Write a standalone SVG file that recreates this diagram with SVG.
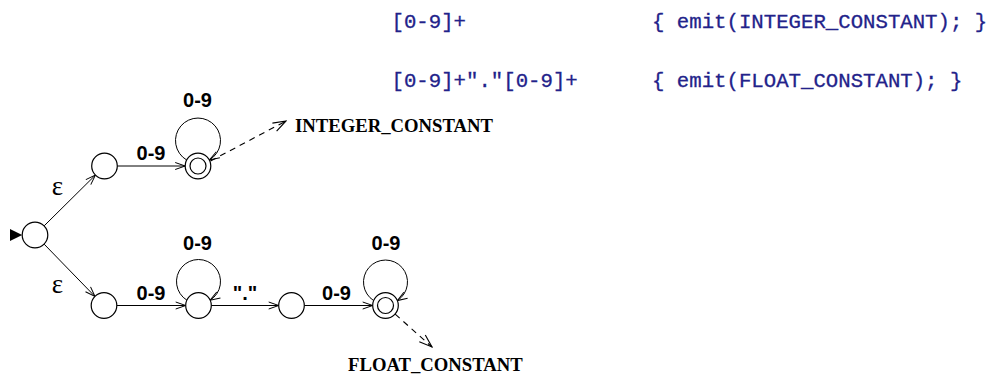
<svg xmlns="http://www.w3.org/2000/svg" width="995" height="379" viewBox="0 0 995 379">
<defs>
<marker id="arr" markerUnits="userSpaceOnUse" markerWidth="14" markerHeight="10" viewBox="-12 -5 14 10" refX="0" refY="0" orient="auto">
<path d="M-10,-3.5 L0,0 L-10,3.5" fill="none" stroke="#000" stroke-width="1"/>
</marker>
<marker id="arrd" markerUnits="userSpaceOnUse" markerWidth="16" markerHeight="12" viewBox="-15 -6 16 12" refX="0" refY="0" orient="auto">
<path d="M-13,-4.5 L0,0 L-13,4.5" fill="none" stroke="#000" stroke-width="1.1"/>
</marker>
</defs>
<style>
.st{fill:#fff;stroke:#000;stroke-width:1.2}
.e{fill:none;stroke:#000;stroke-width:1}
.d{fill:none;stroke:#000;stroke-width:1.1;stroke-dasharray:6 5}
.lbl{font-family:"Liberation Sans",Arial,sans-serif;font-weight:bold;font-size:20px;text-anchor:middle;fill:#000}
.eps{font-family:"Liberation Serif","DejaVu Serif",serif;font-size:27px;text-anchor:middle;fill:#000}
.tok{font-family:"Liberation Serif","Times New Roman",serif;font-weight:bold;font-size:18.7px;fill:#000}
.code{font-family:"Liberation Mono","DejaVu Sans Mono",monospace;font-size:20.7px;fill:#22228a;stroke:#22228a;stroke-width:0.3}
</style>

<g id="code">
<text class="code" x="391.5" y="28">[0-9]+</text>
<text class="code" x="652" y="28">{ emit(INTEGER_CONSTANT); }</text>
<text class="code" x="391.5" y="87">[0-9]+"."[0-9]+</text>
<text class="code" x="652" y="87">{ emit(FLOAT_CONSTANT); }</text>
</g>

<g id="connectors">
<path class="e" d="M44.2,225.8 L95.4,175.1" marker-end="url(#arr)"/>
<path class="e" d="M44.2,244.2 L95,296.5" marker-end="url(#arr)"/>
<path class="e" d="M117.3,166 L185.2,166" marker-end="url(#arr)"/>
<path class="e" d="M186.5,159.9 A22.5,22.5 0 1 1 209.5,159.9" marker-end="url(#arr)"/>
<path class="d" d="M210.5,161 L286,121" marker-end="url(#arrd)"/>
<path class="e" d="M116.8,305.5 L185.7,305.5" marker-end="url(#arr)"/>
<path class="e" d="M186.9,300.2 A22,22 0 1 1 210.1,300.2" marker-end="url(#arr)"/>
<path class="e" d="M211.3,305.5 L278.7,305.5" marker-end="url(#arr)"/>
<path class="e" d="M304.3,305.5 L372.7,305.5" marker-end="url(#arr)"/>
<path class="e" d="M373.7,300.6 A22,22 0 1 1 397.3,300.6" marker-end="url(#arr)"/>
<path class="d" d="M395.2,314.2 L432,347" marker-end="url(#arrd)"/>
<text class="eps" x="57.5" y="195">ε</text>
<text class="eps" x="57.5" y="293">ε</text>
<text class="lbl" x="151" y="160">0-9</text>
<text class="lbl" x="197.5" y="107">0-9</text>
<text class="lbl" x="151" y="300">0-9</text>
<text class="lbl" x="197.5" y="250">0-9</text>
<text class="lbl" x="245" y="300">"."</text>
<text class="lbl" x="336.5" y="300">0-9</text>
<text class="lbl" x="386" y="250">0-9</text>
</g>

<g id="start">
<polygon points="10,229 22.2,235 10,241" fill="#000"/>
<circle class="st" cx="35" cy="235" r="12.8"/>
</g>
<g id="q1"><circle class="st" cx="104.5" cy="166" r="12.8"/></g>
<g id="q2">
<circle class="st" cx="198" cy="166" r="12.8"/>
<circle class="st" cx="198" cy="166" r="8"/>
</g>
<g id="q3"><circle class="st" cx="104" cy="305.5" r="12.8"/></g>
<g id="q4"><circle class="st" cx="198.5" cy="305.5" r="12.8"/></g>
<g id="q5"><circle class="st" cx="291.5" cy="305.5" r="12.8"/></g>
<g id="q6">
<circle class="st" cx="385.5" cy="305.5" r="12.8"/>
<circle class="st" cx="385.5" cy="305.5" r="8"/>
</g>
<g id="tok-int"><text class="tok" x="295" y="132">INTEGER_CONSTANT</text></g>
<g id="tok-float"><text class="tok" x="348" y="371">FLOAT_CONSTANT</text></g>
</svg>
